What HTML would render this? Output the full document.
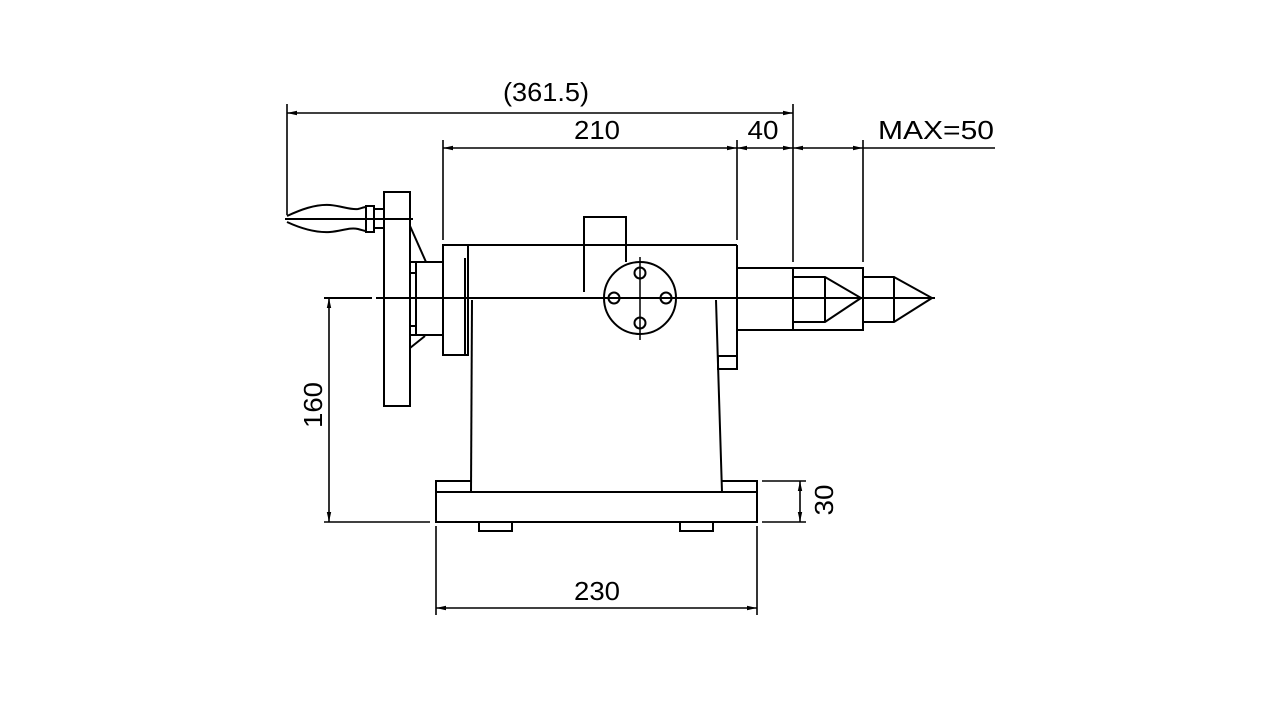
<!DOCTYPE html>
<html><head><meta charset="utf-8"><style>html,body{margin:0;padding:0;background:#fff}svg{display:block}</style></head>
<body>
<svg width="1280" height="720" viewBox="0 0 1280 720" xmlns="http://www.w3.org/2000/svg">
<defs>
<marker id="a" viewBox="0 0 10 6" refX="10" refY="3" markerWidth="10" markerHeight="6" orient="auto-start-reverse" markerUnits="userSpaceOnUse"><path d="M0,0.8 L10,3 L0,5.2z" fill="#000"/></marker>
</defs>
<g fill="none" stroke="#000" stroke-width="2">
<line x1="324" y1="298" x2="372" y2="298"/>
<line x1="376" y1="298" x2="935" y2="298"/>
<path d="M287,216 C300,210 315,204 330,205 C342,206 350,210 358,209 C362,208 364,207 366,207" />
<path d="M287,222 C300,228 315,233 330,232 C342,231 350,227 358,229 C362,230 364,231 366,231" />
<line x1="285" y1="219" x2="413" y2="219" />
<rect x="366" y="206" width="8" height="26"/>
<rect x="374" y="209" width="10" height="19"/>
<rect x="384" y="192" width="26" height="214"/>
<line x1="410" y1="226" x2="426" y2="262"/>
<line x1="410" y1="348" x2="425" y2="336"/>
<rect x="410" y="262" width="6" height="73"/>
<line x1="410" y1="273" x2="416" y2="273"/><line x1="410" y1="326" x2="416" y2="326"/>
<rect x="416" y="262" width="27" height="73"/>
<rect x="443" y="245" width="25" height="110"/>
<line x1="465" y1="258" x2="465" y2="355"/>
<line x1="468" y1="245" x2="737" y2="245"/>
<line x1="737" y1="245" x2="737" y2="368"/>
<rect x="718" y="356" width="19" height="13"/>
<polyline points="584,292 584,217 626,217 626,262"/>
<line x1="472" y1="300" x2="471" y2="492"/>
<line x1="716" y1="300" x2="722" y2="492"/>
<circle cx="640" cy="298" r="36"/>
<line x1="640" y1="257" x2="640" y2="340" stroke-width="1.5"/>
<circle cx="640" cy="273" r="5.5"/><circle cx="640" cy="323" r="5.5"/>
<circle cx="614" cy="298" r="5.5"/><circle cx="666" cy="298" r="5.5"/>
<rect x="737" y="268" width="56" height="62"/>
<rect x="793" y="268" width="70" height="62"/>
<polyline points="793,277 825,277 861,298 825,322 793,322"/>
<line x1="825" y1="277" x2="825" y2="322"/>
<polyline points="863,277 894,277 932,298 894,322 863,322"/>
<line x1="894" y1="277" x2="894" y2="322"/>
<polyline points="471,481 436,481 436,522 757,522 757,481 722,481"/>
<line x1="436" y1="492" x2="757" y2="492"/>
<rect x="479" y="522" width="33" height="9"/>
<rect x="680" y="522" width="33" height="9"/>
</g>
<g stroke="#000" stroke-width="1.6" fill="none">
<line x1="287" y1="104" x2="287" y2="215"/>
<line x1="443" y1="140" x2="443" y2="240"/>
<line x1="737" y1="140" x2="737" y2="240"/>
<line x1="793" y1="104" x2="793" y2="262"/>
<line x1="863" y1="140" x2="863" y2="262"/>
<line x1="863" y1="148" x2="995" y2="148"/>
<line x1="324" y1="522" x2="430" y2="522"/>
<line x1="762" y1="481" x2="806" y2="481"/>
<line x1="762" y1="522" x2="806" y2="522"/>
<line x1="436" y1="526" x2="436" y2="615"/>
<line x1="757" y1="526" x2="757" y2="615"/>
<line x1="287" y1="113" x2="793" y2="113" marker-start="url(#a)" marker-end="url(#a)"/>
<line x1="443" y1="148" x2="737" y2="148" marker-start="url(#a)" marker-end="url(#a)"/>
<line x1="737" y1="148" x2="793" y2="148" marker-start="url(#a)" marker-end="url(#a)"/>
<line x1="793" y1="148" x2="863" y2="148" marker-start="url(#a)" marker-end="url(#a)"/>
<line x1="329" y1="298" x2="329" y2="522" marker-start="url(#a)" marker-end="url(#a)"/>
<line x1="800" y1="481" x2="800" y2="522" marker-start="url(#a)" marker-end="url(#a)"/>
<line x1="436" y1="608" x2="757" y2="608" marker-start="url(#a)" marker-end="url(#a)"/>
</g>
<g font-family="'Liberation Sans', 'DejaVu Sans', sans-serif" font-size="26" fill="#000">
<text x="546" y="101" text-anchor="middle" textLength="86" lengthAdjust="spacingAndGlyphs">(361.5)</text>
<text x="597" y="139" text-anchor="middle" textLength="46" lengthAdjust="spacingAndGlyphs">210</text>
<text x="763" y="139" text-anchor="middle" textLength="31" lengthAdjust="spacingAndGlyphs">40</text>
<text x="936" y="139" text-anchor="middle" textLength="116" lengthAdjust="spacingAndGlyphs">MAX=50</text>
<text x="597" y="600" text-anchor="middle" textLength="46" lengthAdjust="spacingAndGlyphs">230</text>
<text transform="translate(322,405) rotate(-90)" text-anchor="middle" textLength="46" lengthAdjust="spacingAndGlyphs">160</text>
<text transform="translate(833,500) rotate(-90)" text-anchor="middle" textLength="31" lengthAdjust="spacingAndGlyphs">30</text>
</g>
</svg>
</body></html>
